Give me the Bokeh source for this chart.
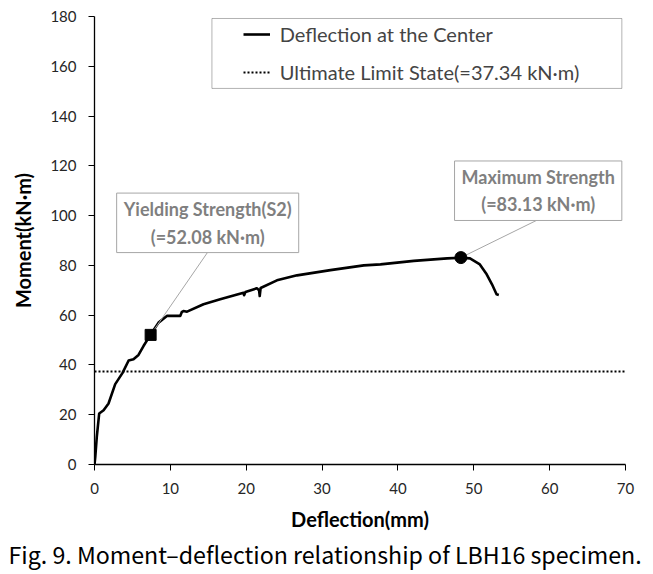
from bokeh.plotting import figure
from bokeh.models import (Legend, LegendItem, Label, Title, BoxAnnotation, Range1d,
                          FixedTicker)
from bokeh.embed import file_html
from bokeh.resources import INLINE

# ---- data ----
deflection = [0, 0.1, 0.3, 0.62, 1.2, 1.85, 2.73, 3.7, 4.5, 5.14, 5.8, 6.46, 7.34, 8.44,
              9.54, 11.3, 11.5, 11.73, 12.2, 14.37, 16.57, 19.64, 19.72, 19.9, 21.4, 21.7,
              21.78, 21.9, 24.05, 26.7, 31.1, 35.5, 37.7, 42.1, 46.5, 48.3, 49.5, 50.8,
              51.7, 52.4, 53.0, 53.3]
moment = [0, 3.0, 11.0, 20.5, 21.8, 24.5, 32.3, 36.8, 41.8, 42.3, 44.0, 47.6, 51.9, 57.0,
          59.7, 59.7, 61.2, 61.7, 61.4, 64.4, 66.4, 69.0, 68.0, 69.3, 70.8, 70.0,
          67.7, 70.9, 74.0, 76.0, 78.1, 80.0, 80.4, 81.8, 82.8, 83.1, 82.8, 80.4,
          76.4, 72.4, 68.4, 68.1]
limit_moment = 37.34
yield_point = (7.4, 52.08)
max_point = (48.3, 83.13)
x_ticks = [0, 10, 20, 30, 40, 50, 60, 70]
y_ticks = [0, 20, 40, 60, 80, 100, 120, 140, 160, 180]
legend_labels = ["Deflection at the Center", "Ultimate Limit State(=37.34 kN\u00b7m)"]
yield_text = "Yielding Strength(S2)\n(=52.08 kN\u00b7m)"
max_text = "Maximum Strength\n(=83.13 kN\u00b7m)"
caption = "Fig. 9. Moment\u2013deflection relationship of LBH16 specimen."

FONT = "Lato"
p = figure(width=653, height=574, output_backend="svg", toolbar_location=None,
           x_range=Range1d(0, 70), y_range=Range1d(0, 180),
           min_border_left=94, min_border_right=28, min_border_top=16, min_border_bottom=110)
p.outline_line_color = None
p.grid.visible = False

for ax in (p.xaxis[0], p.yaxis[0]):
    ax.axis_line_color = "black"
    ax.axis_line_width = 1.3
    ax.major_tick_line_color = "black"
    ax.major_tick_in = 0
    ax.major_tick_out = 6
    ax.minor_tick_line_color = None
    ax.major_label_text_font = FONT
    ax.major_label_text_font_size = "15px"
    ax.major_label_text_color = "#262626"
    ax.axis_label_text_font = FONT
    ax.axis_label_text_font_style = "bold"
    ax.axis_label_text_font_size = "20px"
    ax.axis_label_text_color = "black"
p.xaxis.ticker = FixedTicker(ticks=x_ticks)
p.yaxis.ticker = FixedTicker(ticks=y_ticks)
p.xaxis.axis_label = "Deflection(mm)"
p.yaxis.axis_label = "Moment(kN\u00b7m)"
p.xaxis.major_label_standoff = 12
p.yaxis.major_label_standoff = 12
p.xaxis.axis_label_standoff = 10
p.yaxis.axis_label_standoff = 12

curve = p.line(deflection, moment, line_color="black", line_width=2.6, line_join="round")
lim = p.line([0, 70], [limit_moment, limit_moment], line_color="black", line_width=2,
             line_dash="2 2")

# leader lines (marker -> callout box bottom centre)
p.segment(x0=[yield_point[0], max_point[0]], y0=[yield_point[1], max_point[1]],
          x1=[14.92, 58.49], y1=[85.3, 98.4], line_color="#a6a6a6", line_width=1)

p.scatter([yield_point[0]], [yield_point[1]], marker="square", size=11, color="black")
p.scatter([max_point[0]], [max_point[1]], marker="circle", size=12, color="black")

for txt, cx, cy in ((yield_text, 14.92, 97.1), (max_text, 58.49, 110.0)):
    p.add_layout(Label(x=cx, y=cy, text=txt, text_align="center", text_baseline="middle",
                       text_font=FONT, text_font_style="bold", text_font_size="18px",
                       text_color="#7f7f7f", text_line_height=1.25,
                       background_fill_color="white", border_line_color="#a6a6a6",
                       border_line_width=1, padding=(7, 5)))

# legend frame
p.add_layout(BoxAnnotation(left=15.48, right=69.52, bottom=151.1, top=179.2,
                           fill_color="white", fill_alpha=1, line_color="black",
                           line_width=1, level="overlay"))
legend = Legend(items=[LegendItem(label=legend_labels[0], renderers=[curve]),
                       LegendItem(label=legend_labels[1], renderers=[lim])],
                location=(148.7, 379.8), padding=6, margin=0, spacing=14,
                glyph_width=27, glyph_height=20, label_height=20, label_standoff=10,
                label_text_font=FONT, label_text_font_size="20px",
                border_line_color=None, background_fill_alpha=0)
p.add_layout(legend)

p.add_layout(Title(text=caption, align="left", text_font="Noto Sans CJK KR",
                   text_font_size="23.2px", text_font_style="normal", text_color="black",
                   offset=-86, standoff=2), "below")

open("out.html", "w").write(file_html(p, INLINE))
